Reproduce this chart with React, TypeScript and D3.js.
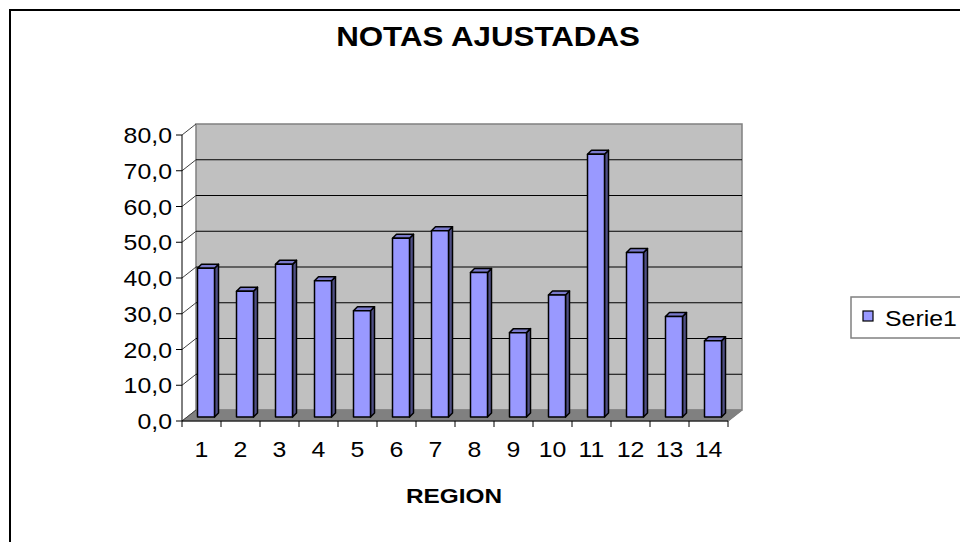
import * as d3 from "d3";

const categories = ["1", "2", "3", "4", "5", "6", "7", "8", "9", "10", "11", "12", "13", "14"];
const serie1 = [41.6, 35.2, 42.7, 38.1, 29.7, 50.0, 52.1, 40.4, 23.6, 34.1, 73.5, 46.0, 28.1, 21.3];
const yTicks = [0, 10, 20, 30, 40, 50, 60, 70, 80];
const seriesName = "Serie1";
const title = "NOTAS AJUSTADAS";
const xTitle = "REGION";

const fmt = (v: number) => v.toFixed(1).replace(".", ",");

export default function App() {
  const width = 960;
  const height = 542;
  // front plane of the 3D box
  const left = 182;
  const right = 728;
  const bottom = 421;
  const top = 135;
  // depth of the box (front -> back wall)
  const depthX = 14;
  const depthY = -11;
  // bar geometry
  const barW = 17;
  const barShiftX = 4.5;
  const barShiftY = -4;
  const barDX = 4;
  const barDY = -4;
  const stretch = 1.13;

  const x = d3.scaleBand<string>().domain(categories).range([left, right]);
  const y = d3.scaleLinear().domain([0, 80]).range([bottom, top]);

  const font = "Arial, 'Liberation Sans', sans-serif";

  const floor = [
    [left, bottom],
    [left + depthX, bottom + depthY],
    [right + depthX, bottom + depthY],
    [right, bottom],
  ];

  return (
    <svg
      width={width}
      height={height}
      style={{ position: "absolute", left: 0, top: 0, background: "#fff" }}
    >
      <rect x={10} y={10} width={width} height={height} fill="#fff" stroke="#000" strokeWidth={2} />

      {/* back wall */}
      <rect
        x={left + depthX}
        y={y(80) + depthY}
        width={right - left}
        height={y(0) - y(80)}
        fill="#C0C0C0"
        stroke="#808080"
        strokeWidth={1.5}
      />
      {/* floor */}
      <path d={"M" + floor.map((p) => p.join(",")).join("L") + "Z"} fill="#808080" stroke="#808080" />

      {/* gridlines on back wall + diagonals */}
      {yTicks.map((t) => (
        <g key={t}>
          {t > 0 && t < 80 && (
            <line
              x1={left + depthX}
              x2={right + depthX}
              y1={y(t) + depthY}
              y2={y(t) + depthY}
              stroke="#000"
              strokeWidth={1}
            />
          )}
          <line x1={left} y1={y(t)} x2={left + depthX} y2={y(t) + depthY} stroke="#404040" strokeWidth={1} />
          <line x1={left - 6} x2={left} y1={y(t)} y2={y(t)} stroke="#000" strokeWidth={1} />
          <text
            transform={`translate(172,${y(t) + 8}) scale(${stretch},1)`}
            textAnchor="end"
            fontFamily={font}
            fontSize={22}
            fill="#000"
          >
            {fmt(t)}
          </text>
        </g>
      ))}
      <line
        x1={right}
        y1={bottom}
        x2={right + depthX}
        y2={bottom + depthY}
        stroke="#808080"
        strokeWidth={1.5}
      />

      {/* bars */}
      {serie1.map((v, i) => {
        const c = categories[i];
        const x0 = (x(c) ?? 0) + x.bandwidth() / 2 + barShiftX - barW / 2;
        const x1 = x0 + barW;
        const yb = y(0) + barShiftY;
        const yt = y(v) + barShiftY;
        return (
          <g key={c} stroke="#000" strokeWidth={1.5} strokeLinejoin="round">
            <path
              d={`M${x1},${yt}L${x1 + barDX},${yt + barDY}L${x1 + barDX},${yb + barDY}L${x1},${yb}Z`}
              fill="#4F4F85"
            />
            <path
              d={`M${x0},${yt}L${x0 + barDX},${yt + barDY}L${x1 + barDX},${yt + barDY}L${x1},${yt}Z`}
              fill="#7A7ACC"
            />
            <rect x={x0} y={yt} width={barW} height={yb - yt} fill="#9999FF" />
          </g>
        );
      })}

      {/* front axes */}
      <line x1={left} x2={left} y1={top} y2={bottom} stroke="#000" strokeWidth={1} />
      <line x1={left} x2={right} y1={bottom} y2={bottom} stroke="#000" strokeWidth={1} />
      {categories.map((c) => (
        <line
          key={"t" + c}
          x1={(x(c) ?? 0) + x.bandwidth()}
          x2={(x(c) ?? 0) + x.bandwidth()}
          y1={bottom}
          y2={bottom + 6}
          stroke="#000"
        />
      ))}
      <line x1={left} x2={left} y1={bottom} y2={bottom + 6} stroke="#000" />
      {categories.map((c) => (
        <text
          key={"l" + c}
          transform={`translate(${(x(c) ?? 0) + x.bandwidth() / 2},457) scale(${stretch},1)`}
          textAnchor="middle"
          fontFamily={font}
          fontSize={22}
          fill="#000"
        >
          {c}
        </text>
      ))}

      {/* titles */}
      <text
        transform={`translate(488,46) scale(1.16,1)`}
        textAnchor="middle"
        fontFamily={font}
        fontWeight="bold"
        fontSize={27}
        fill="#000"
      >
        {title}
      </text>
      <text
        transform={`translate(454,503) scale(1.16,1)`}
        textAnchor="middle"
        fontFamily={font}
        fontWeight="bold"
        fontSize={21}
        fill="#000"
      >
        {xTitle}
      </text>

      {/* legend */}
      <rect x={851} y={297} width={140} height={41} fill="#fff" stroke="#808080" strokeWidth={1.5} />
      <rect x={863} y={311} width={10} height={10} fill="#9999FF" stroke="#000" strokeWidth={1.2} />
      <text
        transform={`translate(885,326) scale(${stretch},1)`}
        fontFamily={font}
        fontSize={22}
        fill="#000"
      >
        {seriesName}
      </text>
    </svg>
  );
}
